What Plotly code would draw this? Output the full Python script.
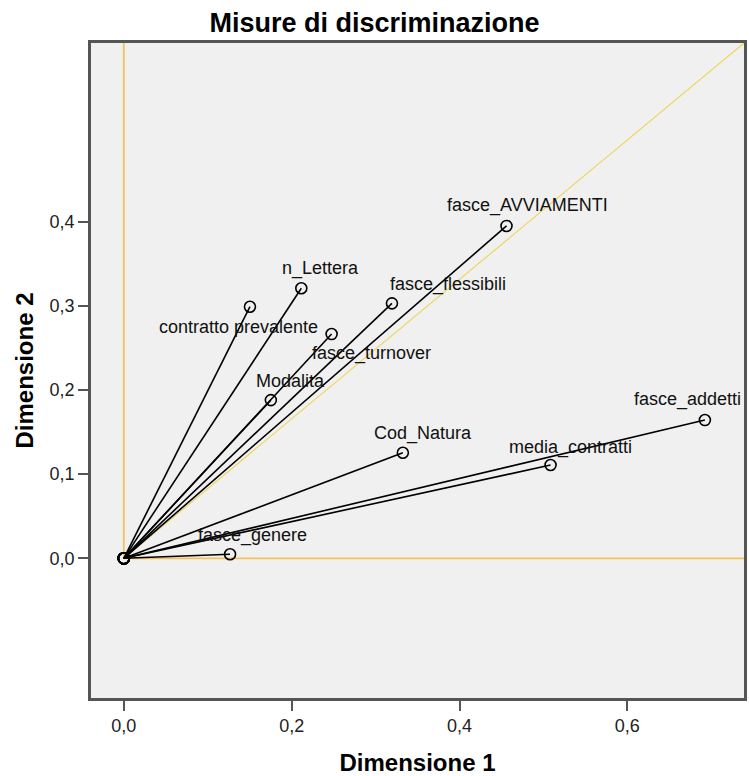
import plotly.graph_objects as go

# ---- data ----
variables = ["fasce_AVVIAMENTI", "n_Lettera", "contratto prevalente", "fasce_flessibili",
             "fasce_turnover", "Modalita", "Cod_Natura", "media_contratti",
             "fasce_addetti", "fasce_genere"]
dim1 = [0.456, 0.2115, 0.1503, 0.3195, 0.2476, 0.1752, 0.3325, 0.5085, 0.6924, 0.1266]
dim2 = [0.395, 0.3209, 0.299, 0.303, 0.2665, 0.188, 0.1255, 0.1109, 0.1643, 0.0048]

x_tickvals = [0.0, 0.2, 0.4, 0.6]
x_ticktext = ["0,0", "0,2", "0,4", "0,6"]
y_tickvals = [0.0, 0.1, 0.2, 0.3, 0.4]
y_ticktext = ["0,0", "0,1", "0,2", "0,3", "0,4"]

# ---- layout / styling (not data) ----
x_range = [-0.0391, 0.739]
y_range = [-0.166, 0.6124]
label_shift = [(21, 20), (19, 20), (-11, -20), (56, 19), (40, -19),
               (20, 19), (20, 19), (20, 18), (-17, 21), (22, 19)]

FONT = "Liberation Sans, Arial, sans-serif"
ORANGE = "#F5C25A"
FRAME = "#555555"

fig = go.Figure()

for name, xv, yv in zip(variables, dim1, dim2):
    fig.add_trace(go.Scatter(
        x=[0, xv], y=[0, yv], mode="lines+markers", name=name,
        line=dict(color="black", width=1.6),
        marker=dict(symbol="circle-open", size=11, color="black",
                    line=dict(width=1.6, color="black")),
        showlegend=False, hoverinfo="skip"))

annotations = []
for name, xv, yv, (dx, dy) in zip(variables, dim1, dim2, label_shift):
    annotations.append(dict(
        x=xv, y=yv, xref="x", yref="y", text=name, showarrow=False,
        xshift=dx, yshift=dy, font=dict(family=FONT, size=18, color="#111111")))

shapes = [
    dict(type="line", xref="x", yref="y", x0=0, y0=0, x1=0, y1=y_range[1],
         line=dict(color=ORANGE, width=1.8), layer="below"),
    dict(type="line", xref="x", yref="y", x0=0, y0=0, x1=x_range[1], y1=0,
         line=dict(color=ORANGE, width=1.8), layer="below"),
    dict(type="line", xref="x", yref="y", x0=0, y0=0, x1=x_range[1], y1=y_range[1],
         line=dict(color="#F2D250", width=1.1), layer="below"),
]

fig.update_layout(
    width=749, height=776,
    margin=dict(l=91, r=2, t=43, b=78),
    paper_bgcolor="white", plot_bgcolor="#F0F0F0",
    title=dict(text="<b>Misure di discriminazione</b>", x=0.5, xanchor="center",
               y=0.971, yanchor="middle",
               font=dict(family=FONT, size=27, color="black")),
    annotations=annotations, shapes=shapes,
    xaxis=dict(range=x_range, tickvals=x_tickvals, ticktext=x_ticktext,
               showgrid=False, zeroline=False, showline=True, mirror=True,
               linecolor=FRAME, linewidth=2.5, ticks="outside", ticklen=10,
               tickwidth=2, tickcolor=FRAME,
               tickfont=dict(family=FONT, size=18, color="#222222"),
               title=dict(text="<b>Dimensione 1</b>", standoff=20,
                          font=dict(family=FONT, size=24, color="black"))),
    yaxis=dict(range=y_range, tickvals=y_tickvals, ticktext=y_ticktext,
               showgrid=False, zeroline=False, showline=True, mirror=True,
               linecolor=FRAME, linewidth=2.5, ticks="outside", ticklen=10,
               tickwidth=2, tickcolor=FRAME,
               tickfont=dict(family=FONT, size=18, color="#222222"),
               title=dict(text="<b>Dimensione 2</b>", standoff=10,
                          font=dict(family=FONT, size=24, color="black"))),
)

fig.write_html("out.html", config={"displayModeBar": False},
               post_script="document.body.style.margin='0';")
